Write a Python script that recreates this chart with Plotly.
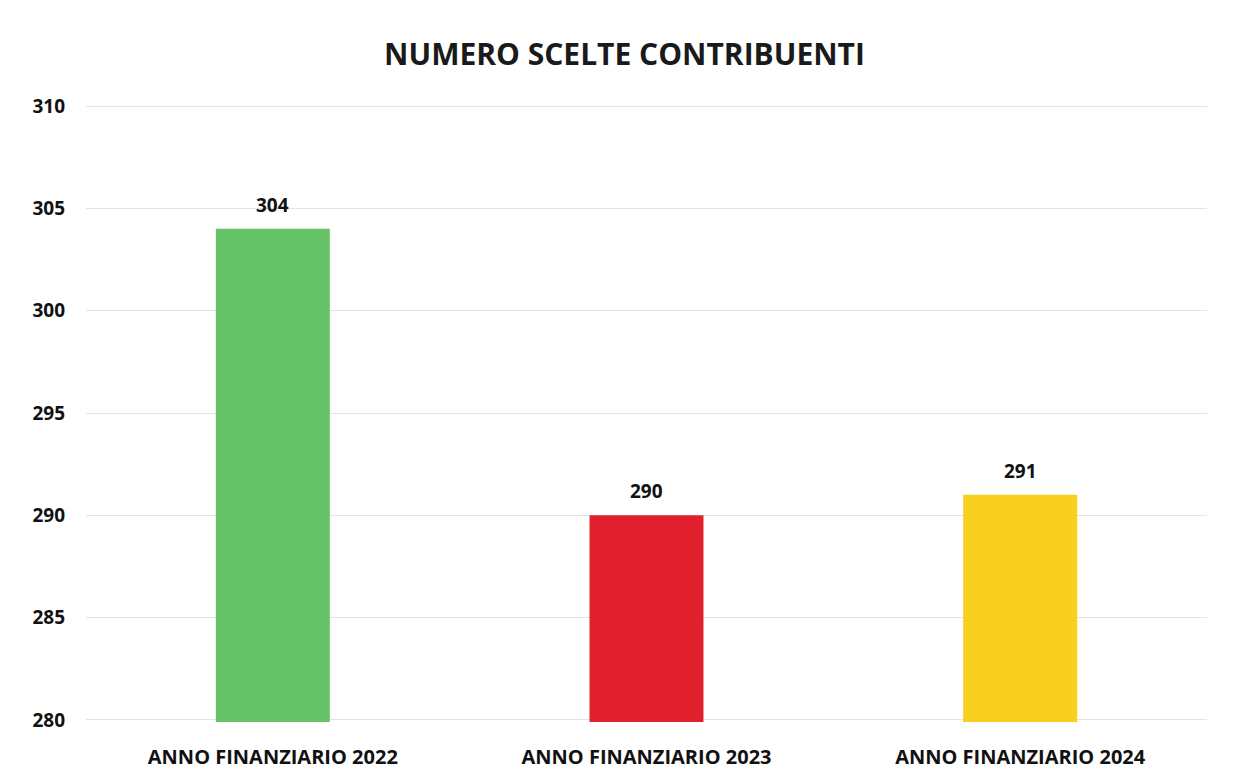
import plotly.graph_objects as go

categories = ["ANNO FINANZIARIO 2022", "ANNO FINANZIARIO 2023", "ANNO FINANZIARIO 2024"]
values = [304, 290, 291]
colors = ["#66C266", "#E0202C", "#F8CF1C"]
y_ticks = [280, 285, 290, 295, 300, 305, 310]

fig = go.Figure()
fig.add_trace(go.Bar(
    x=categories, y=values, marker_color=colors, marker_line_width=0,
    width=0.305,
))
for c, v in zip(categories, values):
    fig.add_annotation(x=c, y=v, text=str(v), showarrow=False,
                       yshift=24, font=dict(size=19, color="#111111", family="Open Sans", weight="bold"))

fig.update_layout(
    width=1233, height=781,
    paper_bgcolor="white", plot_bgcolor="white",
    margin=dict(l=78, r=34, t=96, b=67),
    title=dict(text="NUMERO SCELTE CONTRIBUENTI", x=0.5, xanchor="center",
               y=0.94, yanchor="middle",
               font=dict(size=30, color="#1a1a1a", family="Open Sans", weight="bold")),
    showlegend=False,
    bargap=0.7,
)
fig.update_yaxes(range=[279.9, 310.1], tickvals=y_ticks, showgrid=True, gridcolor="#E3E3E3",
                 gridwidth=1, zeroline=False, showline=False,
                 tickfont=dict(size=19, color="#111111", family="Open Sans", weight="bold"),
                 ticklabelstandoff=20)
fig.update_xaxes(showline=False, showgrid=False, ticks="",
                 tickfont=dict(size=20, color="#111111", family="Open Sans", weight="bold"),
                 ticklabelstandoff=21)

fig.write_html("out.html")
